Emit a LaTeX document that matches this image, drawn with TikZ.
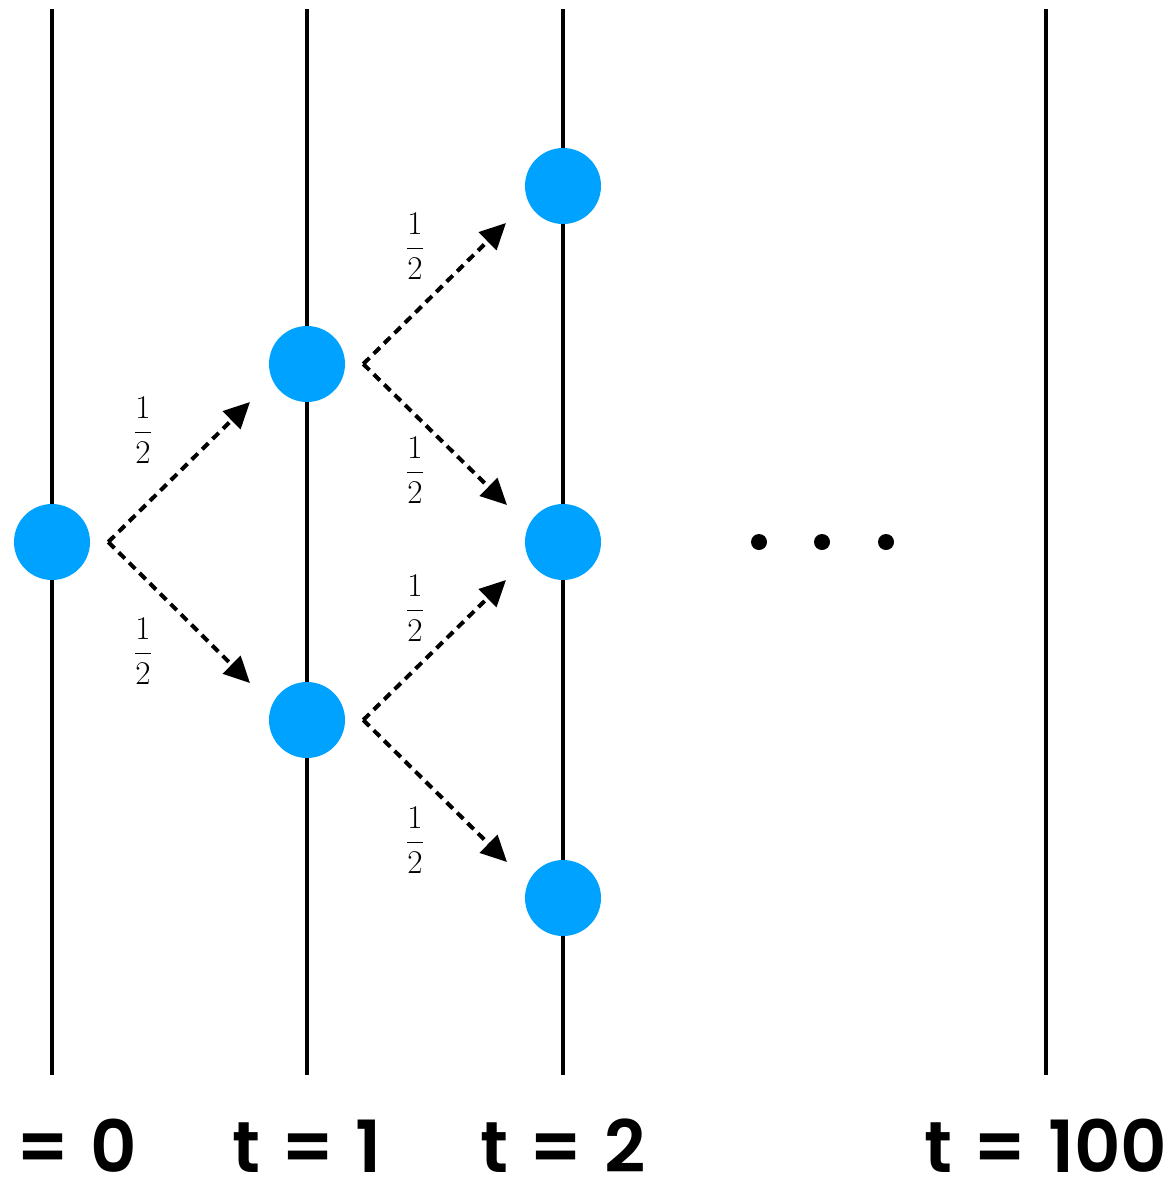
\documentclass[tikz,border=0pt]{standalone}
\usepackage{amsmath}
\usepackage{fontspec}
\usetikzlibrary{arrows.meta}
\newfontfamily\timefont{Poppins}[UprightFont=* SemiBold,WordSpace=1.25]
\definecolor{stateblue}{RGB}{0,162,255}

\begin{document}
\begin{tikzpicture}[x=0.75pt,y=-0.75pt,
	timeline/.style={line width=3.6pt},
	state/.style={circle,fill=stateblue,minimum size=57pt,inner sep=0pt},
	hop/.style={line width=3pt,dash pattern={on 6.5pt off 4.5pt},-{Triangle[length=19.5pt,width=18.5pt]}},
	prob/.style={inner sep=0pt,font=\fontsize{32}{34}\selectfont},
	tlabel/.style={anchor=base,inner sep=0pt,font=\timefont\fontsize{54}{56}\selectfont}]
	\path[use as bounding box,clip] (0,0) rectangle (1171,1178);
	
	%Straight Lines (time axes)
	\draw [timeline] (52,9) -- (52,1075) ;
	\draw [timeline] (307,9) -- (307,1075) ;
	\draw [timeline] (563,9) -- (563,1075) ;
	\draw [timeline] (1046,9) -- (1046,1075) ;
	
	%Shape: Circle (states)
	\node [state] (n0) at (52,542) {};
	\node [state] (n1a) at (307,364) {};
	\node [state] (n1b) at (307,720) {};
	\node [state] (n2a) at (563,186) {};
	\node [state] (n2b) at (563,542) {};
	\node [state] (n2c) at (563,898) {};
	
	%Straight Lines (steps)
	\draw [hop] ([xshift=13.5pt]n0.east) -- ([shift={(-57,38)}]n1a.center) ;
	\draw [hop] ([xshift=13.5pt]n0.east) -- ([shift={(-57,-37)}]n1b.center) ;
	\draw [hop] ([xshift=13.5pt]n1a.east) -- ([shift={(-57,37)}]n2a.center) ;
	\draw [hop] ([xshift=13.5pt]n1a.east) -- ([shift={(-56,-37)}]n2b.center) ;
	\draw [hop] ([xshift=13.5pt]n1b.east) -- ([shift={(-57,38)}]n2b.center) ;
	\draw [hop] ([xshift=13.5pt]n1b.east) -- ([shift={(-56,-36)}]n2c.center) ;
	
	% Text Node
	\node [prob] (p1) at (143,430) {$\dfrac{1}{2}$};
	% Text Node
	\node [prob] (p2) at (143,651) {$\dfrac{1}{2}$};
	% Text Node
	\node [prob] (p3) at (415,246) {$\dfrac{1}{2}$};
	% Text Node
	\node [prob] (p4) at (415,470) {$\dfrac{1}{2}$};
	% Text Node
	\node [prob] (p5) at (415,608) {$\dfrac{1}{2}$};
	% Text Node
	\node [prob] (p6) at (415,840) {$\dfrac{1}{2}$};
	
	%Shape: Circle (ellipsis)
	\fill (759,542) circle [radius=6pt] ;
	\fill (822,542) circle [radius=6pt] ;
	\fill (886,542) circle [radius=6pt] ;
	
	% Text Node
	\node [tlabel] (t0) at (52,1172) {t = 0};
	% Text Node
	\node [tlabel] (t1) at (307,1172) {t = 1};
	% Text Node
	\node [tlabel] (t2) at (563,1172) {t = 2};
	% Text Node
	\node [tlabel] (t100) at (1046,1172) {t = 100};
\end{tikzpicture}
\end{document}
